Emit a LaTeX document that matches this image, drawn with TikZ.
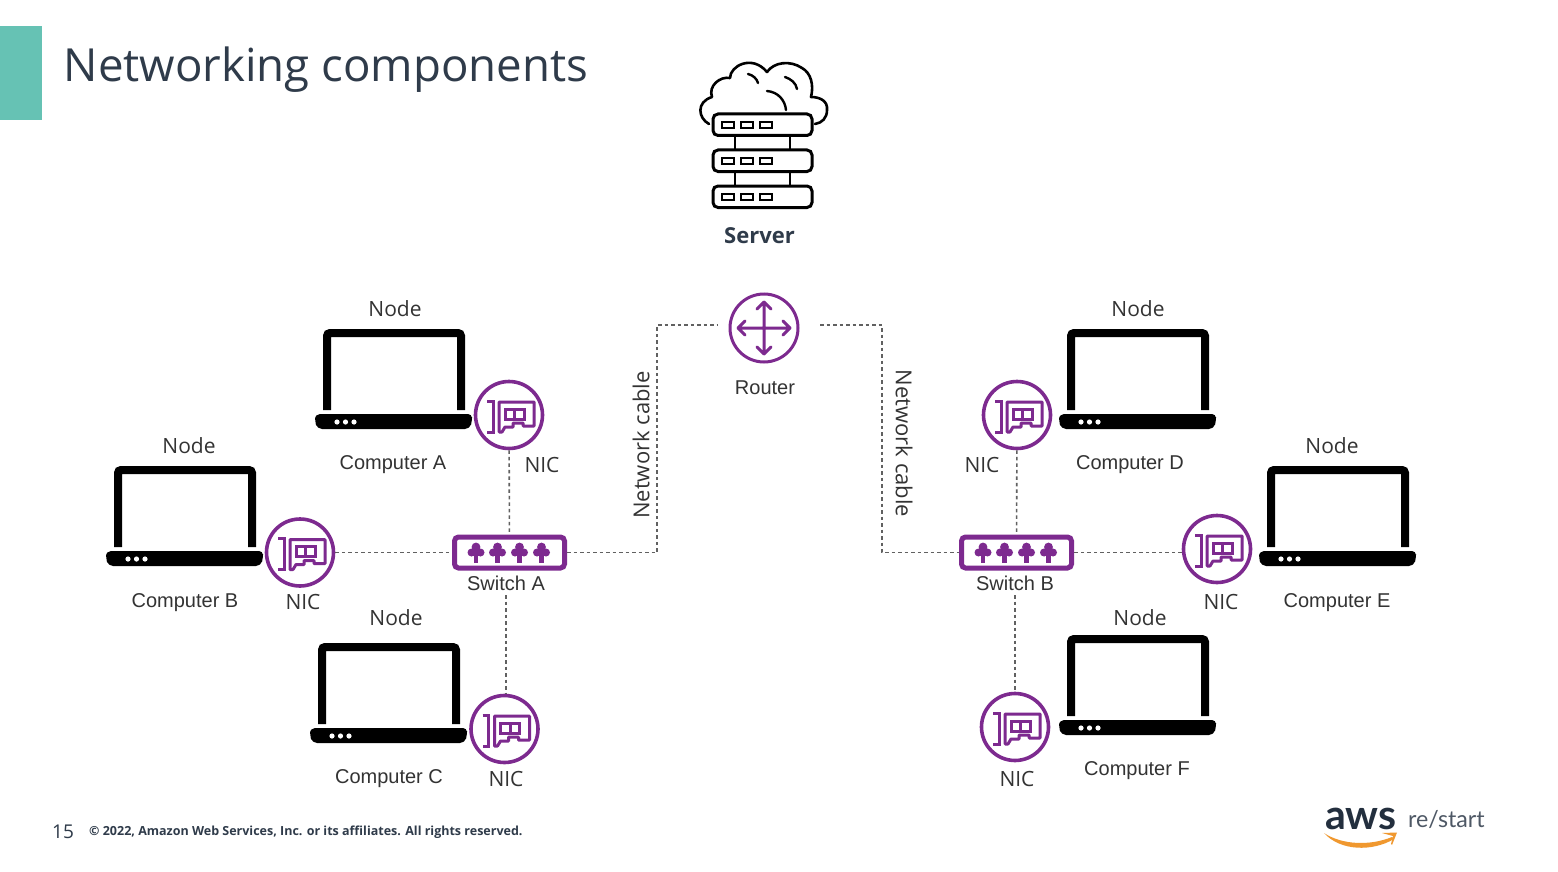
\documentclass[tikz,border=0pt]{standalone}
\usepackage{fontspec}
\setmainfont{Liberation Sans}
\newfontfamily\titlefont{Open Sans}
\newfontfamily\logofont{Lato}
\definecolor{purp}{HTML}{7D2A8F}
\definecolor{teal1}{HTML}{66C2B4}
\definecolor{navy}{HTML}{232F3E}
\definecolor{slate}{HTML}{2F3B4A}
\definecolor{labelc}{HTML}{333333}
\definecolor{awsor}{HTML}{F0982F}
\tikzset{
  lbl/.style={font=\fontsize{20}{24}\selectfont,text=labelc,inner sep=0pt},
  lblb/.style={font=\titlefont\fontsize{21}{24}\selectfont,text=labelc,inner sep=0pt},
  lblc/.style={font=\titlefont\fontsize{22}{24}\selectfont,text=labelc,inner sep=0pt},
  nicnode/.style={circle,draw=purp,line width=3.6pt,minimum size=67pt,inner sep=0pt},
  routernode/.style={circle,draw=purp,line width=3pt,minimum size=68pt,inner sep=0pt},
  switchnode/.style={rectangle,draw=purp,line width=5pt,rounded corners=4pt,minimum width=110pt,minimum height=31pt,inner sep=0pt},
  link/.style={draw=black!62,line width=1.6pt,dash pattern=on 3.5pt off 3pt},
  srv/.style={draw=black,line width=3pt,rounded corners=5pt},
  laptop/.pic={
    \draw[black,line width=8pt,rounded corners=3pt,line cap=butt] (4,81) -- (4,4) -- (138,4) -- (138,81);
    \fill[black,rounded corners=4pt] (-8,85) -- (149,85) -- (149,92) [rounded corners=5pt] -- (147,100) -- (-6,100) -- (-8,92) -- cycle;
    \fill[white] (14,93) circle (2.6pt) (22.5,93) circle (2.6pt) (31,93) circle (2.6pt);
  },
  nicicon/.pic={
    \draw[purp,line width=3pt] (-22,-14) -- (-16,-14) -- (-16,17) -- (-22,17);
    \draw[purp,line width=3pt,line join=round] (-10,-13) -- (25,-13) -- (25,11) -- (14,11) -- (14,8) -- (4,8) -- (4,12) -- (-4,12) -- (-7,17) -- (-10,17) -- cycle;
    \draw[purp,line width=3pt] (-4,-6) rectangle (15,4) (5.5,-6) -- (5.5,4);
  },
  switchicon/.pic={
    \foreach \a in {-33.5,-12,10,32}{
      \fill[purp] (\a,-5.5) circle (4.4pt) (\a-4.5,0) circle (4pt) (\a+4.5,0) circle (4pt) (\a,0) circle (4.4pt);
      \fill[purp] (\a-2.2,-9) rectangle (\a+2.2,10);
    }
  },
}
\begin{document}
\begin{tikzpicture}[x=1pt,y=-1pt]
\useasboundingbox (0,0) rectangle (1558,872);
\fill[white] (0,0) rectangle (1558,872);
\fill[teal1] (0,26) rectangle (42,120);
\node[anchor=base west,inner sep=0pt,text=slate,font=\titlefont\fontsize{45.6}{50}\selectfont] (title) at (63.5,82) {Networking components};

% server
\begin{scope}[shift={(764,0)}]
  \draw[black,line width=2.6pt,line cap=round,line join=round]
    (-55,124) .. controls (-66,118) and (-68,102) .. (-52,97)
    .. controls (-56,86) and (-44,76) .. (-34,78)
    .. controls (-34,66) and (-12,54) .. (3,72)
    .. controls (10,62) and (26,60) .. (38,68)
    .. controls (47,73) and (50,85) .. (47,97)
    .. controls (56,97) and (64,101) .. (63,110)
    .. controls (63,118) and (58,123) .. (51,124);
  \draw[black,line width=2.4pt,line cap=round] (-16,74) .. controls (-11,75) and (-7,79) .. (-6,83);
  \draw[black,line width=2.4pt,line cap=round] (21,77) .. controls (27,79) and (32,83) .. (33,89);
  \draw[black,line width=2.4pt,line cap=round] (3,91) .. controls (14,92) and (21,100) .. (22,110);
  \foreach \yy in {114,150,186}{
    \draw[srv,fill=white] (-51,\yy) rectangle (48,\yy+21.5);
    \foreach \xx in {-42,-23,-4}{
      \draw[black,line width=2.4pt] (\xx,\yy+8) rectangle (\xx+12,\yy+14);
    }
  }
  \draw[black,line width=2.6pt] (-29,135.5) -- (-29,150) (26,135.5) -- (26,150) (-29,171.5) -- (-29,186) (26,171.5) -- (26,186);
\end{scope}
\node[inner sep=0pt,font=\titlefont\bfseries\fontsize{22}{26}\selectfont,text=slate] (server) at (759.5,236) {Server};

% components
\node[routernode] (router) at (764,328) {};
\node[switchnode] (swa) at (509.5,552.5) {};
\node[switchnode] (swb) at (1016.5,552.5) {};
\node[nicnode] (nica) at (509,415) {};
\node[nicnode] (nicb) at (300,552.5) {};
\node[nicnode] (nicc) at (504.5,729) {};
\node[nicnode] (nicd) at (1017,415) {};
\node[nicnode] (nice) at (1217,549) {};
\node[nicnode] (nicf) at (1015,727) {};

\foreach \n in {nica,nicb,nicc,nicd,nice,nicf}{ \pic at (\n.center) {nicicon}; }
\pic at (swa.center) {switchicon};
\pic at (swb.center) {switchicon};

% router arrows
\begin{scope}[shift={(router.center)}]
  \draw[purp,line width=3pt,line cap=round,line join=round]
    (-26,0) -- (26,0) (0,-26) -- (0,26)
    (-19,-7) -- (-26,0) -- (-19,7)
    (19,-7) -- (26,0) -- (19,7)
    (-7,-19) -- (0,-26) -- (7,-19)
    (-7,19) -- (0,26) -- (7,19);
\end{scope}

% laptops
\pic at (323,329) {laptop};
\pic at (114,466) {laptop};
\pic at (318,643) {laptop};
\pic at (1067,329) {laptop};
\pic at (1267,466) {laptop};
\pic at (1067,635) {laptop};

% labels
\node[lblb] (n1) at (395,309) {Node};
\node[lblb] (n2) at (189,446) {Node};
\node[lblb] (n3) at (396,618) {Node};
\node[lblb] (n4) at (1138,309) {Node};
\node[lblb] (n5) at (1332,446) {Node};
\node[lblb] (n6) at (1140,618) {Node};
\node[lbl] (ca) at (393,465) {Computer A};
\node[lbl] (cb) at (185,603) {Computer B};
\node[lbl] (cc) at (389,779) {Computer C};
\node[lbl] (cd) at (1130,465) {Computer D};
\node[lbl] (ce) at (1337,603) {Computer E};
\node[lbl] (cf) at (1137,771) {Computer F};
\node[lblb] (la) at (542,465) {NIC};
\node[lblb] (lb) at (303,602) {NIC};
\node[lblb] (lc) at (506,779) {NIC};
\node[lblb] (ld) at (982,465) {NIC};
\node[lblb] (le) at (1221,602) {NIC};
\node[lblb] (lf) at (1017,779) {NIC};
\node[lbl] (lsa) at (506,583) {Switch A};
\node[lbl] (lsb) at (1015,583) {Switch B};
\node[lbl] (lr) at (765,387.5) {Router};
\node[lblc,rotate=90] (nc1) at (641,445) {Network cable};
\node[lblc,rotate=-90] (nc2) at (904,443.5) {Network cable};

% connectors
\coordinate (ra) at (718,325);
\coordinate (rb) at (820,325);
\coordinate (s1) at (506,595);
\coordinate (s2) at (1015,595);
\draw[link] (nica) -- (swa);
\draw[link] (nicb) -- (swa);
\draw[link] (s1) -- (s1 |- nicc.north);
\draw[link] (nicd) -- (swb);
\draw[link] (nice.west |- swb) -- (swb);
\draw[link] (s2) -- (nicf);
\draw[link] (swa.east) -| (657,325) -- (ra);
\draw[link] (rb) -- (882,325) |- (swb.west);

% footer
\node[anchor=base west,inner sep=0pt,font=\titlefont\fontsize{19}{22}\selectfont,text=slate] (pg) at (52,838) {15};
\node[anchor=base west,inner sep=0pt,font=\titlefont\bfseries\fontsize{12.5}{15}\selectfont,text=slate] (copy) at (89,835) {© 2022, Amazon Web Services, Inc. or its affiliates. All rights reserved.};

% logo
\node[anchor=base west,inner sep=0pt,font=\logofont\bfseries\fontsize{41}{44}\selectfont,text=navy] (aws) at (1325,829) {aws};
\node[anchor=base west,inner sep=0pt,font=\logofont\fontsize{23.2}{28}\selectfont,text=slate!85] (rs) at (1408,827) {re/start};
\fill[awsor] (1324,833) .. controls (1342,845) and (1370,846) .. (1392,837) -- (1394,839) .. controls (1372,852) and (1340,851) .. (1324,833) -- cycle;
\fill[awsor] (1382,833) -- (1397,832.5) -- (1392,845) -- (1391,844) -- (1393,836) -- cycle;
\end{tikzpicture}
\end{document}
